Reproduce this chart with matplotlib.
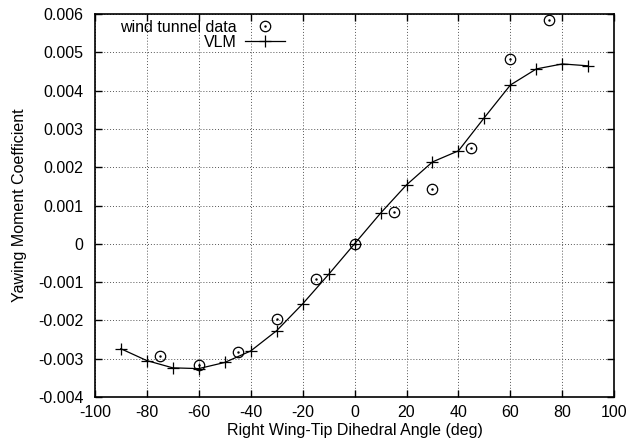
import matplotlib
matplotlib.use("Agg")
import matplotlib.pyplot as plt
from matplotlib.ticker import FuncFormatter
from matplotlib.lines import Line2D

plt.rcParams['font.family'] = ['Liberation Sans', 'DejaVu Sans']

vlm_x = [-90, -80, -70, -60, -50, -40, -30, -20, -10, 0, 10, 20, 30, 40, 50, 60, 70, 80, 90]
vlm_y = [-0.00274, -0.00305, -0.00324, -0.00326, -0.00310, -0.00280, -0.00227, -0.00157, -0.00080, 0.0,
         0.00080, 0.00154, 0.00214, 0.00243, 0.00330, 0.00415, 0.00457, 0.00470, 0.00465]

wt_x = [-75, -60, -45, -30, -15, 0, 15, 30, 45, 60, 75]
wt_y = [-0.00292, -0.00316, -0.00282, -0.00196, -0.00091, 0.0, 0.00083, 0.00143, 0.00250, 0.00483, 0.00585]

FS = 11.5

fig = plt.figure(figsize=(6.32, 4.43), dpi=100)
ax = fig.add_axes([0.150, 0.104, 0.822, 0.864])

ax.plot(wt_x, wt_y, linestyle='none', marker='o', markersize=7.5, markerfacecolor='none',
        markeredgecolor='black', markeredgewidth=0.9, zorder=3)
ax.plot(wt_x, wt_y, linestyle='none', marker='.', markersize=1.5, color='black', zorder=3)
ax.plot(vlm_x, vlm_y, color='black', linewidth=0.9, marker='+', markersize=9,
        markeredgewidth=0.9, zorder=3)

ax.set_xlim(-100, 100)
ax.set_ylim(-0.004, 0.006)
ax.set_xticks(range(-100, 101, 20))
ax.set_yticks([i * 0.001 for i in range(-4, 7)])
ax.yaxis.set_major_formatter(FuncFormatter(lambda v, p: '0' if abs(v) < 1e-9 else ('%.3f' % v)))
ax.xaxis.set_major_formatter(FuncFormatter(lambda v, p: '%d' % round(v)))

ax.grid(True, linestyle=(0, (1, 2)), color='#555555', linewidth=0.7)
ax.tick_params(direction='in', top=True, right=True, length=5, width=1, labelsize=FS)
ax.tick_params(axis='y', pad=8)
ax.tick_params(axis='x', pad=6)
for s in ax.spines.values():
    s.set_linewidth(1.2)

ax.set_xlabel('Right Wing-Tip Dihedral Angle (deg)', fontsize=FS, labelpad=2)
ax.set_ylabel('Yawing Moment Coefficient', fontsize=FS, labelpad=8)

h1 = Line2D([], [], linestyle='none', marker='o', markersize=7.5, markerfacecolor='none',
            markeredgecolor='black', markeredgewidth=0.9)
h1b = Line2D([], [], linestyle='none', marker='.', markersize=1.5, color='black')
h2 = Line2D([], [], color='black', linewidth=0.9, marker='+', markersize=9, markeredgewidth=0.9)
leg = ax.legend([(h1, h1b), h2], ['wind tunnel data', 'VLM'], loc='upper right',
                bbox_to_anchor=(0.366, 0.985), frameon=False, markerfirst=False, fontsize=FS,
                handlelength=2.5, handletextpad=0.5, labelspacing=0.0, borderaxespad=0.0,
                borderpad=0.0)
for t in leg.get_texts():
    t.set_ha('right')

fig.savefig('out.png', dpi=100)
